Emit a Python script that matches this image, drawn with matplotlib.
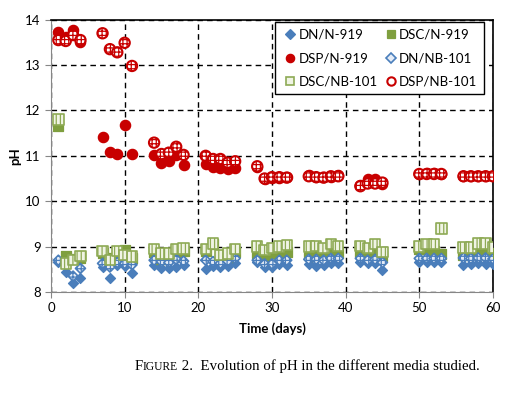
"""pH-Verlauf in den verschiedenen Medien (DN / DSC / DSP, N-919 vs NB-101)."""
import matplotlib
matplotlib.use("Agg")
import matplotlib.pyplot as plt
from matplotlib.lines import Line2D

days = [1, 2, 3, 4, 7, 8, 9, 10, 11, 14, 15, 16, 17, 18, 21, 22, 23, 24, 25,
        28, 29, 30, 31, 32, 35, 36, 37, 38, 39, 42, 43, 44, 45,
        50, 51, 52, 53, 56, 57, 58, 59, 60]

dn_n919 = [8.65, 8.45, 8.2, 8.3, 8.55, 8.3, 8.6, 8.58, 8.42,
           8.6, 8.52, 8.52, 8.56, 8.6, 8.5, 8.57, 8.55, 8.57, 8.63,
           8.65, 8.55, 8.55, 8.62, 8.6, 8.61, 8.58, 8.59, 8.63, 8.64,
           8.65, 8.63, 8.63, 8.48, 8.67, 8.67, 8.65, 8.67,
           8.6, 8.62, 8.64, 8.62, 8.62]
dsc_n919 = [11.65, 8.8, 8.72, 8.75, 8.85, 8.75, 8.8, 8.93, 8.75,
            8.88, 8.72, 8.8, 8.88, 8.9, 8.9, 9.05, 8.75, 8.78, 8.88,
            8.85, 8.8, 8.85, 8.85, 8.88, 8.82, 8.8, 8.82, 8.85, 8.85,
            8.88, 8.85, 8.88, 8.8, 8.95, 8.95, 8.9, 8.83,
            8.82, 8.85, 8.9, 8.88, 8.85]
dsp_n919 = [13.72, 13.62, 13.78, 13.5, 11.42, 11.09, 11.05, 11.69, 11.05,
            11.02, 10.85, 10.88, 11.02, 10.8, 10.82, 10.75, 10.74, 10.72, 10.74,
            10.76, 10.5, 10.52, 10.52, 10.53, 10.57, 10.54, 10.54, 10.54, 10.57,
            10.35, 10.49, 10.5, 10.39, 10.6, 10.62, 10.62, 10.6,
            10.55, 10.55, 10.55, 10.55, 10.55]
dn_nb101 = [8.7, 8.62, 8.35, 8.52, 8.63, 8.55, 8.65, 8.63, 8.6,
            8.7, 8.67, 8.65, 8.72, 8.68, 8.7, 8.67, 8.63, 8.68, 8.74,
            8.7, 8.62, 8.62, 8.7, 8.7, 8.72, 8.72, 8.7, 8.74, 8.74,
            8.74, 8.7, 8.72, 8.65, 8.74, 8.74, 8.74, 8.74,
            8.75, 8.74, 8.75, 8.75, 8.73]
dsc_nb101 = [11.8, 8.63, 8.7, 8.8, 8.9, 8.7, 8.9, 8.81, 8.78,
             8.94, 8.85, 8.85, 8.94, 8.96, 8.94, 9.07, 8.81, 8.85, 8.94,
             9.0, 8.92, 8.97, 9.0, 9.03, 9.0, 9.01, 8.97, 9.05, 9.01,
             9.02, 8.97, 9.05, 8.88, 9.0, 9.05, 9.05, 9.4,
             8.98, 8.98, 9.07, 9.07, 8.98]
dsp_nb101 = [13.55, 13.53, 13.66, 13.55, 13.7, 13.35, 13.28, 13.49, 12.98,
             11.29, 11.04, 11.07, 11.2, 11.02, 11.0, 10.93, 10.93, 10.85, 10.88,
             10.77, 10.5, 10.53, 10.53, 10.52, 10.55, 10.53, 10.52, 10.55, 10.55,
             10.33, 10.39, 10.39, 10.41, 10.6, 10.6, 10.6, 10.6,
             10.55, 10.55, 10.55, 10.55, 10.55]

BLUE = "#4A7EBB"
GREEN = "#7F9F3F"
RED = "#C80000"

# label, werte, marker, size, face, edge, lw, hatch, hatchfarbe
SERIES = [
    ("DN/N-919",   dn_n919,   "D", 26, BLUE,      BLUE,      0.9, None,   None),
    ("DSC/N-919",  dsc_n919,  "s", 55, GREEN,     GREEN,     0.9, None,   None),
    ("DSP/N-919",  dsp_n919,  "o", 55, RED,       RED,       0.9, None,   None),
    ("DN/NB-101",  dn_nb101,  "D", 26, "#E4ECF7", BLUE,      1.2, "++++", "#5E8CC8"),
    ("DSC/NB-101", dsc_nb101, "s", 55, "#F0F4E4", "#8EAA55", 1.2, "||||", "#A9C07A"),
    ("DSP/NB-101", dsp_nb101, "o", 55, "white",   RED,       1.5, "++++", "#D23C3C"),
]

plt.rcParams["font.family"] = ["Lato", "DejaVu Sans"]
plt.rcParams["hatch.linewidth"] = 0.9

fig = plt.figure(figsize=(5.14, 3.93), dpi=100)
ax = fig.add_axes([0.0992, 0.257, 0.8598, 0.693])

handles = {}
for label, vals, marker, size, face, edge, lw, hatch, hcol in SERIES:
    if hcol:
        plt.rcParams["hatch.color"] = hcol
    ax.scatter(days, vals, marker=marker, s=size, facecolor=face,
               edgecolor=edge, linewidths=lw, hatch=hatch, zorder=3)
    handles[label] = Line2D([], [], linestyle="none", marker=marker,
                            markersize=6 if marker != "D" else 5,
                            markerfacecolor=face, markeredgecolor=edge,
                            markeredgewidth=lw)

ax.set_xlim(0, 60)
ax.set_ylim(8, 14)
ax.set_xticks(range(0, 61, 10))
ax.set_yticks(range(8, 15))
ax.grid(True, color="black", linestyle=(0, (4, 3)), linewidth=1.0, zorder=0)
ax.set_axisbelow(True)
for s in ("left", "bottom"):
    ax.spines[s].set_color("#868686")
for s in ("top", "right"):
    ax.spines[s].set_color("black")
    ax.spines[s].set_linewidth(1.2)
ax.tick_params(direction="out", length=4, color="#868686", labelsize=9.5)

ax.set_xlabel("Time (days)", fontsize=9.5, fontweight="bold", labelpad=6)
ax.set_ylabel("pH", fontsize=9.5, fontweight="bold", labelpad=3)

order = ["DN/N-919", "DSP/N-919", "DSC/NB-101",
         "DSC/N-919", "DN/NB-101", "DSP/NB-101"]
leg = ax.legend([handles[k] for k in order], order, ncol=2, loc="upper right",
                bbox_to_anchor=(0.98, 0.99), borderaxespad=0, fontsize=9.5,
                frameon=True, fancybox=False, edgecolor="black", framealpha=1,
                handletextpad=0.05, columnspacing=0.4, labelspacing=0.85,
                borderpad=0.5, handlelength=1.2)
leg.get_frame().set_linewidth(1.0)

# Bildunterschrift mit Kapitälchen
renderer = fig.canvas.get_renderer()
x = 0.261
y = 0.058
parts = [("F", 10.7), ("IGURE", 8.3), (" 2.  Evolution of pH in the different media studied.", 10.7)]
for txt, size in parts:
    t = fig.text(x, y, txt, fontsize=size, family="Liberation Serif",
                 ha="left", va="baseline")
    bb = t.get_window_extent(renderer=renderer)
    x += bb.width / fig.bbox.width

fig.savefig("out.png", dpi=100)
